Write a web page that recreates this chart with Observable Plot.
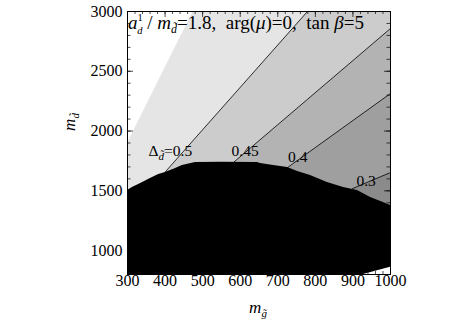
<!DOCTYPE html>
<html><head><meta charset="utf-8">
<script src="https://cdn.jsdelivr.net/npm/d3@7"></script>
<script src="https://cdn.jsdelivr.net/npm/@observablehq/plot@0.6"></script>
<style>body{margin:0;background:#fff} #chart{width:470px;height:325px}</style>
</head><body><div id="chart"></div>
<script>
// ---- data ----
const xTicks = [300, 400, 500, 600, 700, 800, 900, 1000];
const yTicks = [1000, 1500, 2000, 2500, 3000];
const xMinorStep = 20, yMinorStep = 100;

// excluded (black) region: upper boundary
const blackX = [300, 313, 335, 361, 383, 401, 428, 446, 481, 550, 646, 654, 689, 726, 753, 787, 832, 875, 912, 947, 981, 1000];
const blackY = [1503, 1528, 1561, 1603, 1637, 1653, 1687, 1712, 1737, 1740, 1737, 1729, 1712, 1695, 1662, 1628, 1570, 1528, 1503, 1444, 1402, 1377];
// small white corner at bottom right
const cornerX = [928, 1000];
const cornerY = [800, 860];

// zone boundaries (bottom point -> top point)
const whiteEdgeX = [300, 473], whiteEdgeY = [1910, 3000];
const c50X = [401, 779],  c50Y = [1660, 3000];
const c45X = [582, 1000], c45Y = [1737, 2858];
const c40X = [726, 1000], c40Y = [1695, 2314];
const c30X = [899, 1000], c30Y = [1519, 1653];

const labelX = [356, 613, 753, 935];
const labelY = [1829, 1829, 1779, 1578];
const labelText = ["Δ=0.5", "0.45", "0.4", "0.3"];

const zoneColors = ["#ffffff", "#e5e5e5", "#cccccc", "#b3b3b3", "#9f9f9f", "#8b8b8b"];

// ---- build ----
const X0 = 300, X1 = 1000, Y0 = 800, Y1 = 3000;
const zip = (xs, ys) => xs.map((x, i) => ({x, y: ys[i]}));
function leftPoly(xs, ys) {
  const p = zip(xs, ys);
  const a = p[0], b = p[1];
  const xb = a.x - (a.y - Y0) * (b.x - a.x) / (b.y - a.y);
  const poly = [{x: xb, y: Y0}, ...p];
  const last = p[p.length - 1];
  if (last.y < Y1) poly.push({x: X1, y: Y1});
  poly.push({x: X0, y: Y1}, {x: X0, y: Y0});
  return poly;
}
const contours = [[c30X, c30Y], [c40X, c40Y], [c45X, c45Y], [c50X, c50Y]];
const edges = [...contours, [whiteEdgeX, whiteEdgeY]];
const xMinor = d3.range(X0, X1 + 1, xMinorStep);
const yMinor = d3.range(Y0, Y1 + 1, yMinorStep);
const labels = labelX.map((x, i) => ({x, y: labelY[i], t: labelText[i]}));

const ml = 127, mr = 80, mt = 11, mb = 51;
const W = 470 - ml - mr, H = 325 - mt - mb;
const font = "'Liberation Serif', 'Times New Roman', 'DejaVu Serif', serif";

const marks = [
  Plot.frame({fill: zoneColors[5], stroke: "none"}),
  ...edges.map(([xs, ys], i) => Plot.line(leftPoly(xs, ys), {x: "x", y: "y", fill: zoneColors[4 - i], stroke: "none", clip: true})),
  ...contours.map(([xs, ys]) => Plot.line(zip(xs, ys), {x: "x", y: "y", stroke: "black", strokeWidth: 0.8, clip: true})),
  Plot.areaY(zip(blackX, blackY), {x: "x", y1: Y0, y2: "y", fill: "black", clip: true}),
  Plot.areaY(zip(cornerX, cornerY), {x: "x", y1: Y0, y2: "y", fill: "white", clip: true}),
  // inward frame ticks
  Plot.tickX(xMinor, {x: d => d, insetTop: H - 3, stroke: "black", strokeWidth: 0.7}),
  Plot.tickX(xMinor, {x: d => d, insetBottom: H - 3, stroke: "black", strokeWidth: 0.7}),
  Plot.tickX(xTicks, {x: d => d, insetTop: H - 6, stroke: "black", strokeWidth: 0.7}),
  Plot.tickX(xTicks, {x: d => d, insetBottom: H - 6, stroke: "black", strokeWidth: 0.7}),
  Plot.tickY(yMinor, {y: d => d, insetRight: W - 3.5, stroke: "black", strokeWidth: 0.7}),
  Plot.tickY(yMinor, {y: d => d, insetLeft: W - 3.5, stroke: "black", strokeWidth: 0.7}),
  Plot.tickY(yTicks, {y: d => d, insetRight: W - 6, stroke: "black", strokeWidth: 0.7}),
  Plot.tickY(yTicks, {y: d => d, insetLeft: W - 6, stroke: "black", strokeWidth: 0.7}),
  Plot.frame({stroke: "black", strokeWidth: 1}),
  Plot.axisX(xTicks, {tickSize: 0, tickPadding: 0.5, fontSize: 16, label: null, tickFormat: d => String(d)}),
  Plot.axisY(yTicks, {tickSize: 0, tickPadding: 5, fontSize: 16, label: null, tickFormat: d => String(d)}),
  Plot.text(labels, {x: "x", y: "y", text: "t", fontSize: 15.5, fill: "black", className: "clabel"})
];

const plot = Plot.plot({
  width: 470, height: 325,
  marginLeft: ml, marginRight: mr, marginTop: mt, marginBottom: mb,
  style: {fontFamily: font, fontSize: "16px", background: "white", color: "black"},
  x: {domain: [X0, X1]},
  y: {domain: [Y0, Y1]},
  marks
});
document.getElementById("chart").appendChild(plot);

const svg = d3.select(plot);
svg.selectAll("text").attr("font-family", font);
// contour label subscript for Δ
svg.selectAll(".clabel text").each(function () {
  const el = d3.select(this);
  if (el.text().startsWith("Δ")) {
    el.attr("text-anchor", "start").text("");
    el.append("tspan").text("Δ");
    el.append("tspan").attr("font-size", 11).attr("font-style", "italic").attr("dy", 4).text("d\u0303");
    el.append("tspan").attr("dy", -4).text("=0.5");
  }
});

function addText(x, y, parts, rotate, size) {
  const t = svg.append("text").attr("font-family", font).attr("font-size", size || 16)
    .attr("fill", "black").style("white-space", "pre");
  if (rotate) t.attr("transform", `translate(${x},${y}) rotate(-90)`).attr("text-anchor", "middle");
  else t.attr("x", x).attr("y", y).attr("text-anchor", rotate === false ? "middle" : "start");
  for (const p of parts) {
    const s = t.append("tspan").text(p.t);
    if (p.i) s.attr("font-style", "italic");
    if (p.fs) s.attr("font-size", p.fs);
    if (p.dy) s.attr("dy", p.dy);
    if (p.dx) s.attr("dx", p.dx);
  }
  return t;
}
// annotation
addText(128, 29, [
  {t: "a", i: 1},
  {t: "1", fs: 10.5, dy: -8},
  {t: "d", i: 1, fs: 10.5, dx: -5.5, dy: 12.5},
  {t: " / ", dy: -4.5},
  {t: "m", i: 1},
  {t: "d\u0303", i: 1, fs: 12, dy: 4},
  {t: "=1.8,  arg(", dy: -4},
  {t: "μ", i: 1},
  {t: ")=0,  tan "},
  {t: "β", i: 1},
  {t: "=5"}
], undefined, 19);
// axis labels
addText(258, 313, [{t: "m", i: 1}, {t: "g\u0303", i: 1, fs: 11, dy: 4}], false, 17);
addText(75, 122, [{t: "m", i: 1}, {t: "d\u0303", i: 1, fs: 11, dy: 4}], true, 17);
</script>
</body></html>
